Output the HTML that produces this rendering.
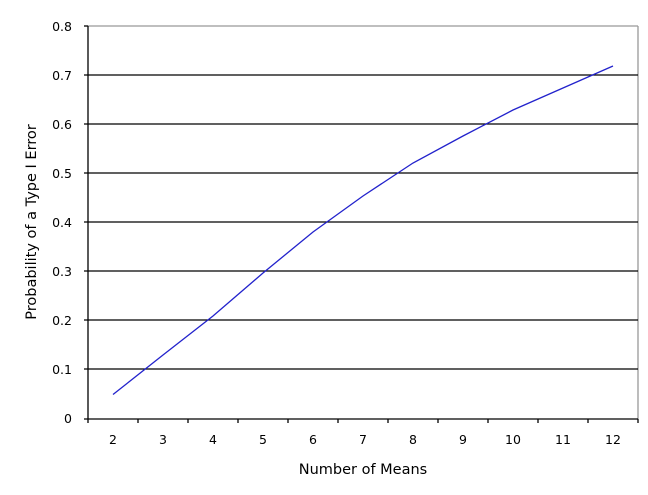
<!DOCTYPE html>
<html><head><style>body{margin:0;background:#fff}</style></head><body>
<svg width="648" height="490" xmlns="http://www.w3.org/2000/svg" font-family="Verdana, 'DejaVu Sans', sans-serif" font-size="12.5">
<rect width="648" height="490" fill="#fff"/>
<line x1="88" y1="26" x2="638" y2="26" stroke="#999" stroke-width="1.3"/>
<line x1="638" y1="26" x2="638" y2="419" stroke="#999" stroke-width="1.3"/>
<g stroke="#000" stroke-width="1.3">
<line x1="84" y1="75" x2="638" y2="75"/>
<line x1="84" y1="124" x2="638" y2="124"/>
<line x1="84" y1="173" x2="638" y2="173"/>
<line x1="84" y1="222" x2="638" y2="222"/>
<line x1="84" y1="271" x2="638" y2="271"/>
<line x1="84" y1="320" x2="638" y2="320"/>
<line x1="84" y1="369" x2="638" y2="369"/>
<line x1="84" y1="26" x2="88" y2="26"/>
<line x1="84" y1="419" x2="638" y2="419"/>
<line x1="88" y1="26" x2="88" y2="423"/>
<line x1="138" y1="419" x2="138" y2="423"/><line x1="188" y1="419" x2="188" y2="423"/><line x1="238" y1="419" x2="238" y2="423"/><line x1="288" y1="419" x2="288" y2="423"/><line x1="338" y1="419" x2="338" y2="423"/><line x1="388" y1="419" x2="388" y2="423"/><line x1="438" y1="419" x2="438" y2="423"/><line x1="488" y1="419" x2="488" y2="423"/><line x1="538" y1="419" x2="538" y2="423"/><line x1="588" y1="419" x2="588" y2="423"/><line x1="638" y1="419" x2="638" y2="423"/>
</g>
<g text-anchor="end" fill="#000">
<text x="72" y="31">0.8</text><text x="72" y="80">0.7</text><text x="72" y="129">0.6</text><text x="72" y="178">0.5</text><text x="72" y="227">0.4</text><text x="72" y="276">0.3</text><text x="72" y="325">0.2</text><text x="72" y="374">0.1</text><text x="72" y="423">0</text>
</g>
<g text-anchor="middle" fill="#000">
<text x="113" y="444">2</text><text x="163" y="444">3</text><text x="213" y="444">4</text><text x="263" y="444">5</text><text x="313" y="444">6</text><text x="363" y="444">7</text><text x="413" y="444">8</text><text x="463" y="444">9</text><text x="513" y="444">10</text><text x="563" y="444">11</text><text x="613" y="444">12</text>
<text x="363" y="474" font-size="14.5">Number of Means</text>
<text transform="translate(36,222) rotate(-90)" font-size="14.5">Probability of a Type I Error</text>
</g>
<polyline fill="none" stroke="#2222cc" stroke-width="1.3" points="113,394.5 163,355 213,316 263,273 313,232 363,196 413,163 463,136 513,110 563,88 613,66"/>
</svg>
</body></html>
